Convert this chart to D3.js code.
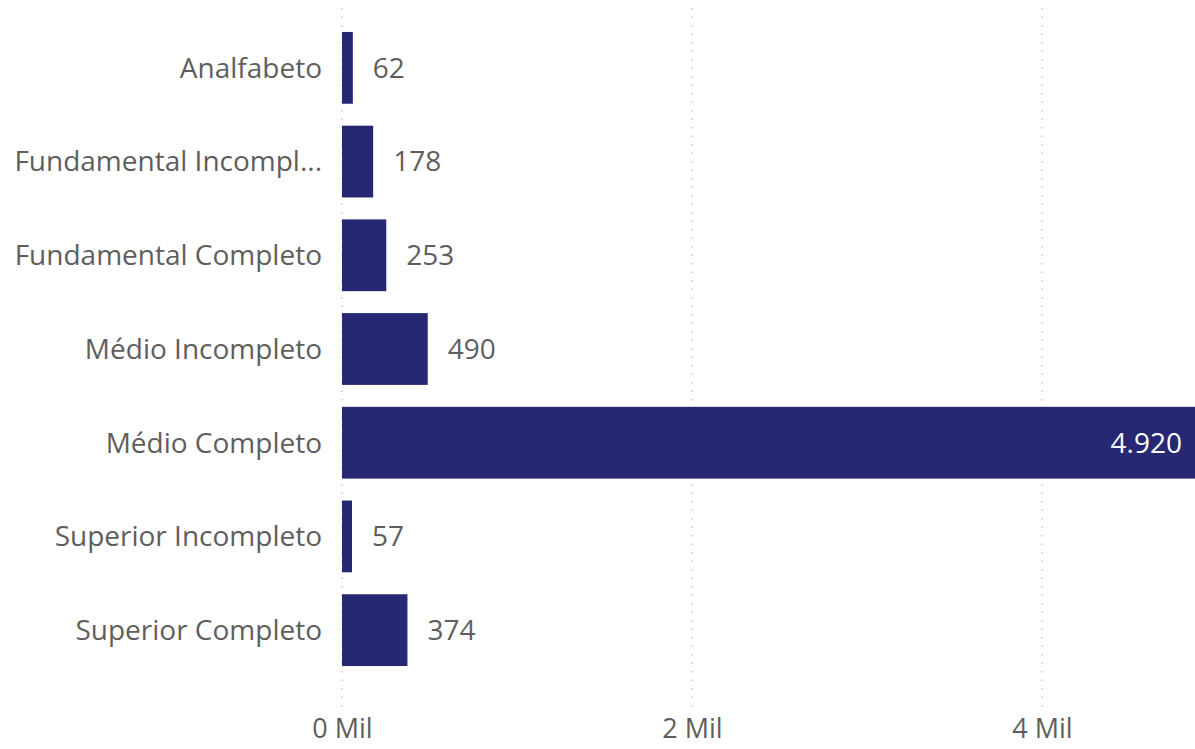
<!DOCTYPE html>
<html>
<head>
<meta charset="utf-8">
<script src="https://cdn.jsdelivr.net/npm/d3@7"></script>
<style>
  html, body { margin: 0; padding: 0; background: #fff; }
  svg { display: block; font-family: "Open Sans", "Noto Sans", sans-serif; }
</style>
</head>
<body>
<svg></svg>
<script>
var categories = ["Analfabeto", "Fundamental Incompleto", "Fundamental Completo", "Médio Incompleto", "Médio Completo", "Superior Incompleto", "Superior Completo"];
var values = [62, 178, 253, 490, 4920, 57, 374];
var valueLabels = ["62", "178", "253", "490", "4.920", "57", "374"];
var tickValues = [0, 2000, 4000];
var tickLabels = ["0 Mil", "2 Mil", "4 Mil"];

var svgWidth = 1195, svgHeight = 749;
var svg = d3.select("svg").attr("width", svgWidth).attr("height", svgHeight);

var data = categories.map(function(c, i) {
  return { cat: c, value: values[i], label: valueLabels[i] };
});

var x = d3.scaleLinear().domain([0, 4920]).range([342, 1203]);
var y = d3.scaleBand().domain(categories).range([21, 677]).paddingInner(0.234).paddingOuter(0.117);

// dotted gridlines
svg.append("g")
  .selectAll("line")
  .data(tickValues)
  .join("line")
  .attr("x1", function(d) { return x(d); })
  .attr("x2", function(d) { return x(d); })
  .attr("y1", 8)
  .attr("y2", 708)
  .attr("stroke", "#c8c6c4")
  .attr("stroke-width", 1.5)
  .attr("stroke-dasharray", "1.5,7");

// bars
svg.append("g")
  .selectAll("rect")
  .data(data)
  .join("rect")
  .attr("x", x(0))
  .attr("y", function(d) { return y(d.cat); })
  .attr("width", function(d) { return x(d.value) - x(0); })
  .attr("height", y.bandwidth())
  .attr("fill", "#262873");

// category labels, truncated like the original
var maxLabel = 310;
svg.append("g")
  .selectAll("text")
  .data(data)
  .join("text")
  .attr("x", 322)
  .attr("y", function(d) { return y(d.cat) + y.bandwidth() / 2; })
  .attr("dy", "0.35em")
  .attr("text-anchor", "end")
  .attr("fill", "#605e5c")
  .attr("font-size", 28)
  .text(function(d) { return d.cat; })
  .each(function(d) {
    var t = d3.select(this), s = d.cat;
    while (this.getComputedTextLength() > maxLabel && s.length > 1) {
      s = s.slice(0, -1);
      t.text(s.trim() + "...");
    }
  });

// value labels
svg.append("g")
  .selectAll("text")
  .data(data)
  .join("text")
  .attr("x", function(d) { return d.value > 3000 ? x(d.value) - 21 : x(d.value) + 20; })
  .attr("y", function(d) { return y(d.cat) + y.bandwidth() / 2; })
  .attr("dy", "0.35em")
  .attr("text-anchor", function(d) { return d.value > 3000 ? "end" : "start"; })
  .attr("fill", function(d) { return d.value > 3000 ? "#ffffff" : "#605e5c"; })
  .attr("font-size", 28)
  .text(function(d) { return d.label; });

// x axis
var xAxis = svg.append("g")
  .attr("transform", "translate(0,711)")
  .call(d3.axisBottom(x).tickValues(tickValues).tickSize(0).tickPadding(8)
    .tickFormat(function(d, i) { return tickLabels[i]; }));
xAxis.select(".domain").remove();
xAxis.selectAll("text")
  .attr("fill", "#605e5c")
  .attr("font-size", 27)
  .attr("font-family", "\"Open Sans\", \"Noto Sans\", sans-serif");
</script>
</body>
</html>
